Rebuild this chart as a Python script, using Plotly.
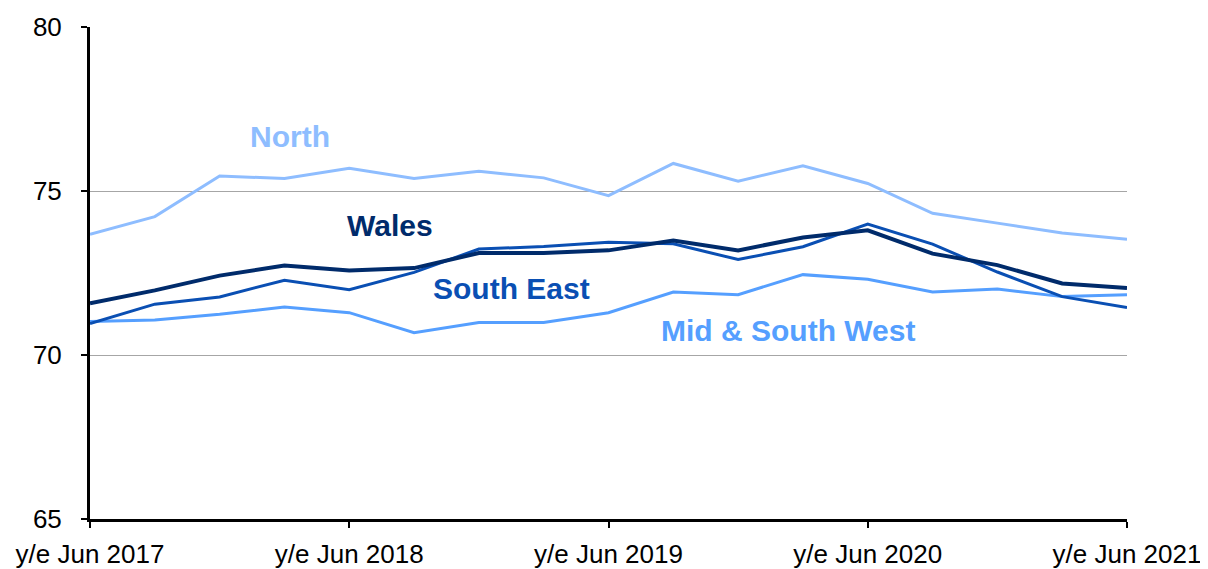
import plotly.graph_objects as go

quarters = ["y/e Jun 2017", "y/e Sep 2017", "y/e Dec 2017", "y/e Mar 2018",
            "y/e Jun 2018", "y/e Sep 2018", "y/e Dec 2018", "y/e Mar 2019",
            "y/e Jun 2019", "y/e Sep 2019", "y/e Dec 2019", "y/e Mar 2020",
            "y/e Jun 2020", "y/e Sep 2020", "y/e Dec 2020", "y/e Mar 2021",
            "y/e Jun 2021"]
tick_labels = ["y/e Jun 2017", "y/e Jun 2018", "y/e Jun 2019", "y/e Jun 2020", "y/e Jun 2021"]
y_ticks = [65, 70, 75, 80]

north = [73.68, 74.22, 75.46, 75.38, 75.69, 75.38, 75.60, 75.40, 74.86,
         75.84, 75.30, 75.77, 75.23, 74.32, 74.02, 73.72, 73.53]
wales = [71.58, 71.97, 72.42, 72.73, 72.58, 72.65, 73.11, 73.11, 73.19,
         73.49, 73.19, 73.58, 73.80, 73.09, 72.74, 72.18, 72.04]
south_east = [70.96, 71.55, 71.77, 72.28, 71.99, 72.52, 73.23, 73.31, 73.44,
              73.39, 72.91, 73.30, 73.99, 73.38, 72.53, 71.78, 71.45]
mid_sw = [71.02, 71.07, 71.24, 71.46, 71.29, 70.68, 70.99, 70.99, 71.29,
          71.92, 71.84, 72.45, 72.31, 71.92, 72.01, 71.78, 71.84]

series = [
    ("North", north, "#8ebdff", 3),
    ("Mid & South West", mid_sw, "#559fff", 3),
    ("South East", south_east, "#0a4fb3", 3),
    ("Wales", wales, "#002b6b", 4),
]

fig = go.Figure()
for name, vals, color, w in series:
    fig.add_trace(go.Scatter(x=quarters, y=vals, mode="lines", name=name,
                             line=dict(color=color, width=w), showlegend=False))

labels = [
    ("North", 3.09, 76.65, "#8ebdff"),
    ("Wales", 4.63, 73.96, "#002b6b"),
    ("South East", 6.5, 72.02, "#0a4fb3"),
    ("Mid & South West", 10.77, 70.76, "#559fff"),
]
for text, x, y, color in labels:
    fig.add_annotation(x=x, y=y, xref="x", yref="y", text="<b>%s</b>" % text,
                       showarrow=False,
                       font=dict(family="Liberation Sans, Arial, sans-serif", size=30, color=color))

# page body has an 8px default margin, so margins are offset by 8px
fig.update_layout(
    width=1208, height=569,
    margin=dict(l=82, r=89, t=19, b=58),
    paper_bgcolor="white", plot_bgcolor="white",
    font=dict(family="Liberation Sans, Arial, sans-serif", size=26, color="black"),
)
fig.update_xaxes(
    type="category", range=[0, len(quarters) - 1], automargin=False,
    tickmode="array", tickvals=tick_labels, ticktext=tick_labels,
    showline=True, linecolor="black", linewidth=3,
    ticks="outside", ticklen=6, tickwidth=2, tickcolor="black",
    showgrid=False, zeroline=False,
    tickfont=dict(size=26), ticklabelstandoff=4,
)
fig.update_yaxes(
    range=[65, 80], tickvals=y_ticks, automargin=False,
    showline=True, linecolor="black", linewidth=3,
    ticks="outside", ticklen=6, tickwidth=2, tickcolor="black",
    showgrid=True, gridcolor="#a6a6a6", gridwidth=1, zeroline=False,
    tickfont=dict(size=26), ticklabelstandoff=14,
)

fig.write_html("out.html")
